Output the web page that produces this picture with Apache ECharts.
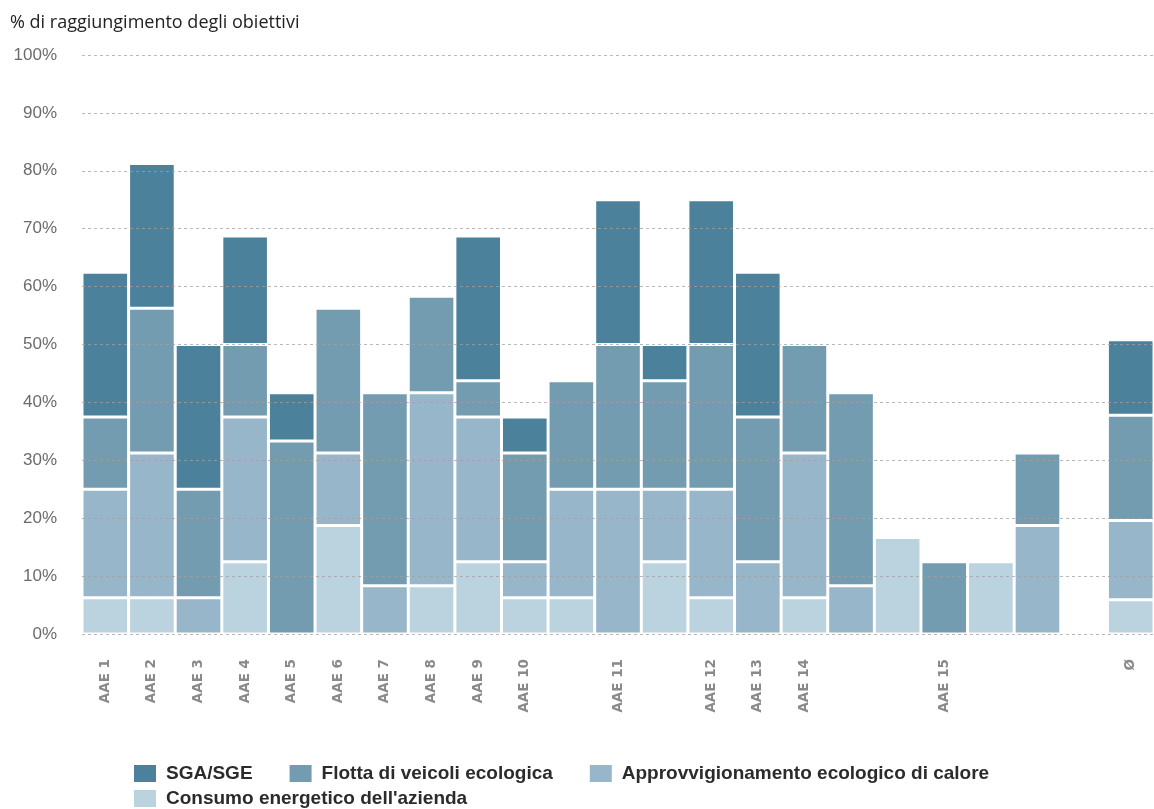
<!DOCTYPE html>
<html>
<head>
<meta charset="utf-8">
<script src="https://cdn.jsdelivr.net/npm/echarts@6/dist/echarts.min.js"></script>
<style>html,body{margin:0;padding:0;background:#fff;}#c{width:1154px;height:809px;}</style>
</head>
<body>
<div id="c"></div>
<script>
const categories = ["AAE 1","AAE 2","AAE 3","AAE 4","AAE 5","AAE 6","AAE 7","AAE 8","AAE 9","AAE 10","","AAE 11","","AAE 12","AAE 13","AAE 14","","","AAE 15","","","","Ø"];
const consumo = [6.25,6.25,0,12.5,0,18.75,0,8.33,12.5,6.25,6.25,0,12.5,6.25,0,6.25,0,16.67,0,12.5,0,0,5.9];
const approvv = [18.75,25,6.25,25,0,12.5,8.33,33.33,25,6.25,18.75,25,12.5,18.75,12.5,25,8.33,0,0,0,18.75,0,13.7];
const flotta  = [12.5,25,18.75,12.5,33.33,25,33.33,16.67,6.25,18.75,18.75,25,18.75,25,25,18.75,33.33,0,12.5,0,12.5,0,18.2];
const sga     = [25,25,25,18.75,8.33,0,0,0,25,6.25,0,25,6.25,25,25,0,0,0,0,0,0,0,13.0];
const seriesNames = ["SGA/SGE","Flotta di veicoli ecologica","Approvvigionamento ecologico di calore","Consumo energetico dell'azienda"];
const yTicks = {min:0, max:100, interval:10};

const colors = {
  "SGA/SGE": "#4b819b",
  "Flotta di veicoli ecologica": "#739cb1",
  "Approvvigionamento ecologico di calore": "#97b6c9",
  "Consumo energetico dell'azienda": "#bbd2df"
};
const stackOrder = [
  ["Consumo energetico dell'azienda", consumo],
  ["Approvvigionamento ecologico di calore", approvv],
  ["Flotta di veicoli ecologica", flotta],
  ["SGA/SGE", sga]
];

const chart = echarts.init(document.getElementById('c'), null, {renderer:'canvas'});
const legendText = {fontFamily:'"Liberation Sans", Arial, sans-serif', fontWeight:'bold', fontSize:19, color:'#2b2b2b', padding:[0,0,0,4]};
chart.setOption({
  animation:false,
  title:{text:'% di raggiungimento degli obiettivi', left:5, top:9,
    textStyle:{fontFamily:'"Open Sans", sans-serif', fontWeight:'normal', fontSize:18, color:'#222'}},
  legend:[
    {data:seriesNames.slice(0,3), left:127, top:758, itemWidth:24, itemHeight:19, itemGap:35, icon:'rect', textStyle:legendText},
    {data:seriesNames.slice(3), left:127, top:783, itemWidth:24, itemHeight:19, itemGap:35, icon:'rect', textStyle:legendText}
  ],
  grid:{left:82, right:-1, top:55, bottom:175, containLabel:false},
  xAxis:{type:'category', data:categories,
    axisLine:{show:false}, axisTick:{show:false},
    axisLabel:{interval:0, rotate:90, margin:25, fontFamily:'"DejaVu Sans", sans-serif', fontWeight:'bold', fontSize:13.5, color:'#8a8a8a'}},
  yAxis:{type:'value', min:yTicks.min, max:yTicks.max, interval:yTicks.interval, z:3,
    axisLine:{show:false}, axisTick:{show:false},
    axisLabel:{formatter:'{value}%', margin:25, fontFamily:'"Liberation Sans", Arial, sans-serif', fontSize:17, color:'#6b6b6b'},
    splitLine:{lineStyle:{type:[3,3], color:'rgba(160,160,160,0.75)', width:1}}},
  series: stackOrder.map(([name, arr]) => ({
    name, type:'bar', stack:'total', barCategoryGap:'0%',
    data: arr.map(v => v === 0 ? '-' : v),
    itemStyle:{color:colors[name], borderColor:'#ffffff', borderWidth:1.5}
  }))
});
</script>
</body>
</html>
